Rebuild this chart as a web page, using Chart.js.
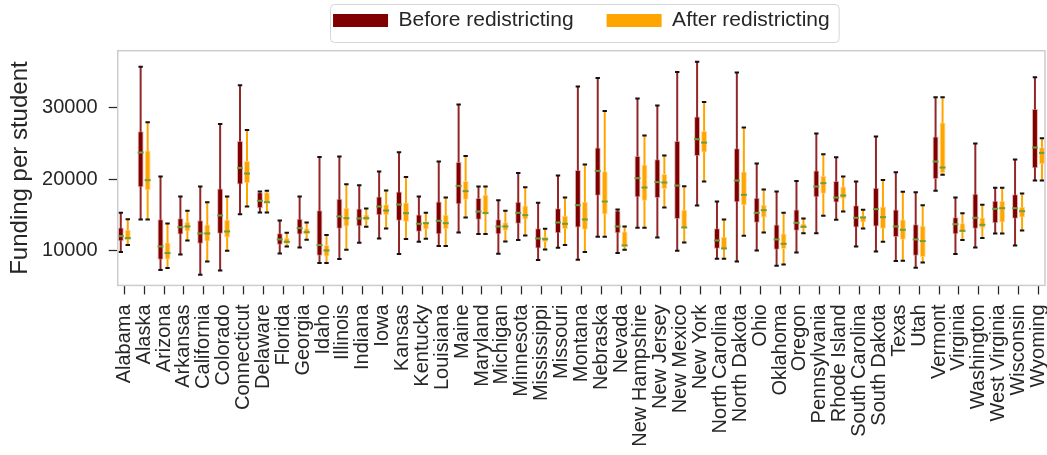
<!DOCTYPE html>
<html>
<head>
<meta charset="utf-8">
<script src="https://cdn.jsdelivr.net/npm/chart.js@4.4.1/dist/chart.umd.min.js"></script>
<style>
  html, body { margin: 0; padding: 0; background: #fff; }
  #wrap { position: relative; width: 1047px; height: 455px; }
</style>
</head>
<body>
<div id="wrap"><canvas id="fundingChart"></canvas></div>
<script>
const states = ['Alabama', 'Alaska', 'Arizona', 'Arkansas', 'California', 'Colorado', 'Connecticut',
  'Delaware', 'Florida', 'Georgia', 'Idaho', 'Illinois', 'Indiana', 'Iowa', 'Kansas', 'Kentucky',
  'Louisiana', 'Maine', 'Maryland', 'Michigan', 'Minnesota', 'Mississippi', 'Missouri', 'Montana',
  'Nebraska', 'Nevada', 'New Hampshire', 'New Jersey', 'New Mexico', 'New York', 'North Carolina',
  'North Dakota', 'Ohio', 'Oklahoma', 'Oregon', 'Pennsylvania', 'Rhode Island', 'South Carolina',
  'South Dakota', 'Texas', 'Utah', 'Vermont', 'Virginia', 'Washington', 'West Virginia', 'Wisconsin',
  'Wyoming'];

// before redistricting: whisker ends, quartiles, median
const beforeMin = [9770, 14340, 7250, 9440, 6600, 7200, 15080, 15320, 9580, 10420, 8230, 8790, 11070, 11680, 9490, 11210,
  10610, 12520, 12290, 9530, 11450, 8650, 10370, 8700, 11910, 9630, 13170, 11820, 9950, 16290, 8830,
  8460, 10000, 7860, 9720, 12420, 14290, 10560, 9860, 8510, 7580, 18350, 9490, 10420, 12380, 10700, 19790];
const beforeQ1 = [11300, 18860, 8700, 12240, 10930, 12330, 19230, 15920, 10790, 12240, 9250, 13030, 13400, 14940, 14150, 12610,
  12280, 16480, 14290, 12280, 13730, 10280, 12420, 13200, 17650, 12420, 17460, 17330, 14390, 23240, 10230,
  16760, 13870, 10090, 12750, 17460, 16710, 13220, 13360, 11870, 9250, 19990, 12280, 13030, 13820, 14430, 21520];
const beforeMed = [12000, 23710, 10560, 13260, 12380, 14900, 21560, 16950, 11540, 13120, 10750, 14760, 14480, 16150, 16430, 13730,
  14150, 19040, 15450, 13360, 15270, 11680, 13920, 16340, 21140, 13360, 20120, 19570, 19090, 25570, 11400,
  19790, 15270, 11540, 13870, 18950, 17410, 14570, 15780, 13360, 11540, 22450, 13680, 14570, 15830, 15920, 24410];
const beforeQ3 = [13200, 26690, 14380, 14520, 14240, 18670, 25340, 18160, 12420, 14430, 15640, 17230, 15870, 17550, 18250, 15040,
  16850, 22400, 17330, 14380, 16810, 13120, 15920, 21280, 24410, 15590, 23240, 22780, 25340, 28740, 13120,
  24310, 17370, 13640, 15730, 21190, 19740, 16340, 18770, 15730, 13680, 25940, 14660, 17930, 16950, 17880, 29810];
const beforeMax = [15270, 35730, 20350, 17550, 18950, 27720, 33120, 18250, 14200, 17550, 23100, 23150, 19140, 21050, 23750, 17550,
  22450, 30420, 18950, 17040, 20860, 16670, 20490, 32940, 34150, 15730, 31260, 30280, 34990, 36430, 16850,
  34900, 22170, 18250, 19740, 26360, 23050, 19650, 25940, 20960, 18160, 31450, 17410, 24970, 18770, 22730, 34240];

// after redistricting
const afterMin = [10750, 14340, 7530, 11400, 8460, 9950, 16150, 15320, 10560, 11490, 8230, 10090, 13310, 13080, 11590, 11630,
  10610, 14620, 12290, 11260, 12100, 10140, 10750, 9770, 11910, 10090, 13170, 16010, 11120, 19650, 8830,
  12050, 12520, 8040, 12420, 14850, 15460, 13080, 11210, 8560, 8320, 20590, 11450, 11730, 12380, 12800, 19790];
const afterQ1 = [11400, 18440, 8740, 12660, 11260, 11820, 19420, 16530, 10890, 12240, 9160, 13360, 14150, 14940, 14010, 12940,
  12980, 17090, 15090, 12750, 14340, 11170, 12980, 12890, 15040, 10470, 16950, 18590, 13030, 23710, 10190,
  16340, 14620, 10190, 13080, 17930, 17230, 13920, 13030, 11490, 9070, 20830, 12520, 13120, 13920, 14620, 22080];
const afterMed = [11730, 19840, 9630, 13360, 12380, 12660, 20770, 16760, 11210, 12560, 10000, 14520, 14520, 15590, 15220, 13820,
  13820, 18300, 15230, 13360, 14940, 11590, 13730, 14340, 16850, 10700, 18810, 19510, 13220, 25100, 10280,
  17790, 15640, 10930, 13310, 19420, 17690, 14620, 14660, 12890, 11310, 21610, 12750, 13590, 15920, 15500, 23660];
const afterQ3 = [12890, 23990, 11120, 14010, 13640, 14290, 22540, 18160, 11770, 13120, 10750, 15970, 15040, 16480, 16710, 14100,
  14990, 19740, 17790, 13960, 16290, 11960, 14850, 16810, 21100, 12660, 22030, 20690, 15690, 26740, 11910,
  21050, 16390, 12380, 13780, 20440, 18950, 14850, 16150, 14340, 13450, 27900, 13820, 14620, 16950, 16110, 24450];
const afterMax = [14380, 27950, 13780, 15550, 16760, 17550, 26880, 18350, 12470, 13920, 12150, 19280, 15870, 18390, 20300, 15270,
  17410, 23240, 18950, 15550, 18860, 13030, 17410, 22030, 29530, 13360, 26080, 23290, 19000, 30790, 14340,
  27200, 18530, 15270, 14480, 23470, 20350, 15690, 19880, 18210, 16340, 31450, 15220, 16390, 18770, 17970, 25710];

const yTicks = [10000, 20000, 30000];

const whiskers = [
  { min: beforeMin, med: beforeMed, max: beforeMax, color: 'rgba(128,0,0,0.85)' },
  { min: afterMin, med: afterMed, max: afterMax, color: '#ffa500' }
];

// whiskers + caps behind the boxes, medians on top, plus frame and legend border
const boxPlotPlugin = {
  id: 'boxPlot',
  beforeDatasetsDraw(chart) {
    const ctx = chart.ctx;
    const y = chart.scales.y;
    ctx.save();
    whiskers.forEach((w, d) => {
      chart.getDatasetMeta(d).data.forEach((bar, i) => {
        const top = y.getPixelForValue(w.max[i]);
        const bottom = y.getPixelForValue(w.min[i]);
        ctx.strokeStyle = w.color;
        ctx.lineWidth = 2;
        ctx.beginPath();
        ctx.moveTo(bar.x, top);
        ctx.lineTo(bar.x, bottom);
        ctx.stroke();
        ctx.strokeStyle = '#111';
        ctx.beginPath();
        ctx.moveTo(bar.x - 2.2, top);
        ctx.lineTo(bar.x + 2.2, top);
        ctx.moveTo(bar.x - 2.2, bottom);
        ctx.lineTo(bar.x + 2.2, bottom);
        ctx.stroke();
      });
    });
    ctx.restore();
  },
  afterDatasetsDraw(chart) {
    const ctx = chart.ctx;
    const y = chart.scales.y;
    ctx.save();
    ctx.strokeStyle = '#6b9e3c';
    ctx.lineWidth = 2;
    whiskers.forEach((w, d) => {
      chart.getDatasetMeta(d).data.forEach((bar, i) => {
        const m = y.getPixelForValue(w.med[i]);
        ctx.beginPath();
        ctx.moveTo(bar.x - bar.width / 2, m);
        ctx.lineTo(bar.x + bar.width / 2, m);
        ctx.stroke();
      });
    });
    ctx.restore();
  },
  afterDraw(chart) {
    const ctx = chart.ctx;
    const a = chart.chartArea;
    ctx.save();
    ctx.strokeStyle = '#cccccc';
    ctx.lineWidth = 1.5;
    ctx.strokeRect(a.left, a.top, a.right - a.left, a.bottom - a.top);
    const hb = chart.legend.legendHitBoxes;
    if (hb && hb.length) {
      const last = hb[hb.length - 1];
      const x0 = hb[0].left - 3, x1 = last.left + last.width + 9;
      const y0 = hb[0].top - 6, y1 = hb[0].top + hb[0].height + 11;
      ctx.strokeStyle = '#d6d6d6';
      ctx.lineWidth = 1;
      ctx.beginPath();
      ctx.roundRect(x0 + 0.5, y0 + 0.5, x1 - x0, y1 - y0, 4);
      ctx.stroke();
    }
    ctx.restore();
  }
};

Chart.defaults.font.family = '"Liberation Sans", Arial, sans-serif';
Chart.defaults.color = '#262626';

const ctx = document.getElementById('fundingChart').getContext('2d');
new Chart(ctx, {
  type: 'bar',
  data: {
    datasets: [{
      label: 'Before redistricting',
      data: states.map((s, i) => ({ x: i, y: [beforeQ1[i], beforeQ3[i]] })),
      backgroundColor: '#800000',
      borderColor: 'rgba(200,120,120,0.55)',
      borderWidth: 1,
      borderSkipped: false,
      categoryPercentage: 0.705,
      barPercentage: 0.86
    }, {
      label: 'After redistricting',
      data: states.map((s, i) => ({ x: i, y: [afterQ1[i], afterQ3[i]] })),
      backgroundColor: '#ffa500',
      borderColor: 'rgba(255,210,130,0.8)',
      borderWidth: 1,
      borderSkipped: false,
      categoryPercentage: 0.705,
      barPercentage: 0.86
    }]
  },
  options: {
    responsive: true,
    maintainAspectRatio: false,
    animation: false,
    layout: { padding: { top: -23, left: 4, right: 2, bottom: -1.7 } },
    plugins: {
      tooltip: { enabled: false },
      legend: {
        position: 'top',
        fullSize: false,
        weight: 3000,
        labels: {
          boxWidth: 55,
          boxHeight: 13,
          padding: 33,
          font: { size: 21 },
          color: '#262626',
          generateLabels: (chart) => Chart.defaults.plugins.legend.labels.generateLabels(chart)
            .map(l => Object.assign(l, { lineWidth: 0 }))
        }
      },
      subtitle: {
        display: true,
        text: ' ',
        font: { size: 1, lineHeight: 1 },
        padding: { top: 0, bottom: 8.7 }
      }
    },
    scales: {
      x: {
        type: 'linear',
        min: -0.33,
        max: 46.33,
        bounds: 'data',
        offset: false,
        afterBuildTicks: (scale) => { scale.ticks = states.map((s, i) => ({ value: i })); },
        afterFit: (scale) => { scale.paddingLeft = 0; scale.paddingRight = 0; },
        grid: { drawOnChartArea: false, offset: false, tickLength: 9, tickColor: '#262626', tickWidth: 1.25 },
        border: { display: false },
        ticks: {
          autoSkip: false,
          minRotation: 90,
          maxRotation: 90,
          padding: 10,
          font: { size: 20 },
          color: '#262626',
          callback: (v) => states[v]
        }
      },
      y: {
        min: 5100,
        max: 37970,
        bounds: 'data',
        afterBuildTicks: (scale) => { scale.ticks = yTicks.map(v => ({ value: v })); },
        grid: { drawOnChartArea: false, tickLength: 9, tickColor: '#262626', tickWidth: 1.25 },
        border: { display: false },
        ticks: { padding: 11, font: { size: 20 }, color: '#262626', callback: (v) => String(v) },
        title: {
          display: true,
          text: 'Funding per student',
          font: { size: 24, lineHeight: 0.85 },
          color: '#262626',
          padding: { top: 6.6, bottom: 0.1 }
        }
      }
    }
  },
  plugins: [boxPlotPlugin]
});
</script>
</body>
</html>
